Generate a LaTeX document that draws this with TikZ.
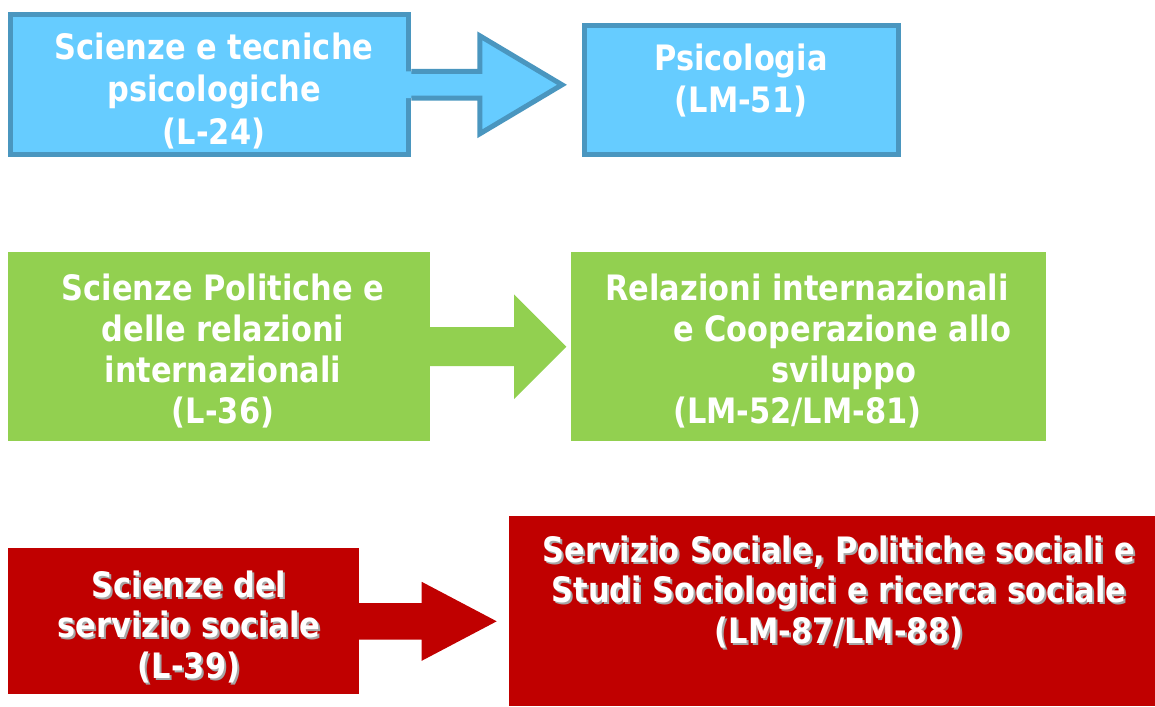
\documentclass[tikz,border=0pt]{standalone}
\usepackage{fontspec}
\newfontfamily\boxfont{DejaVu Sans}[FakeStretch=0.87]
\usetikzlibrary{calc}

\definecolor{bluefill}{HTML}{66CCFF}
\definecolor{blueline}{HTML}{4A96BF}
\definecolor{greenfill}{HTML}{92D050}
\definecolor{redfill}{HTML}{C00000}
\definecolor{shadowgray}{HTML}{A6A6A6}

\newcommand{\shadowed}[1]{\makebox[0pt][l]{\raisebox{-2pt}{\kern2pt\textcolor{shadowgray}{#1}}}#1}

\begin{document}
\begin{tikzpicture}[x=1pt, y=-1pt,
    box/.style={rectangle, inner sep=0pt},
    bluebox/.style={box, draw=blueline, fill=bluefill, line width=5pt},
    greenbox/.style={box, fill=greenfill},
    redbox/.style={box, fill=redfill},
    boxtext/.style={inner sep=0pt, text=white, align=center, anchor=base,
      font=\boxfont\bfseries\fontsize{35}{#1}\selectfont},
    boxtext/.default=41,
    arrowline/.style={draw=blueline, line width=5pt, line join=miter}
  ]

  \useasboundingbox (0,0) rectangle (1155,706);

  % boxes
  \node[bluebox, minimum width=398pt, minimum height=140pt] (l24) at (209.9,84.8) {};
  \node[bluebox, minimum width=314pt, minimum height=129.6pt] (lm51) at (741.2,90) {};

  \node[greenbox, minimum width=421.6pt, minimum height=188.7pt] (l36) at (219.2,346.7) {};
  \node[greenbox, minimum width=474.7pt, minimum height=188.7pt] (lm52) at (808.4,346.7) {};

  \node[redbox, minimum width=351pt, minimum height=146pt] (l39) at (183.8,621.3) {};
  \node[redbox, minimum width=645.8pt, minimum height=190pt] (lm87) at (832.1,611) {};

  % block arrows
  \coordinate (tip1) at (562,84.8);
  \fill[bluefill] ($(l24.east)+(-6,-13.4)$) -- ($(tip1)+(-82.2,-13.4)$) -- ($(tip1)+(-82.2,-49)$)
    -- (tip1) -- ($(tip1)+(-82.2,49)$) -- ($(tip1)+(-82.2,13.4)$) -- ($(l24.east)+(-6,13.4)$) -- cycle;
  \draw[arrowline] ($(l24.east)+(0,-13.4)$) -- ($(tip1)+(-82.2,-13.4)$) -- ($(tip1)+(-82.2,-49)$)
    -- (tip1) -- ($(tip1)+(-82.2,49)$) -- ($(tip1)+(-82.2,13.4)$) -- ($(l24.east)+(0,13.4)$);

  \coordinate (tip2) at (566.4,346.7);
  \fill[greenfill] ($(l36.east)+(-1,-19.5)$) -- ($(tip2)+(-52.4,-19.5)$) -- ($(tip2)+(-52.4,-52.3)$)
    -- (tip2) -- ($(tip2)+(-52.4,52.3)$) -- ($(tip2)+(-52.4,19.5)$) -- ($(l36.east)+(-1,19.5)$) -- cycle;

  \coordinate (tip3) at (496.7,621.3);
  \fill[redfill] ($(l39.east)+(-1,-18.3)$) -- ($(tip3)+(-75,-18.3)$) -- ($(tip3)+(-75,-39.5)$)
    -- (tip3) -- ($(tip3)+(-75,39.5)$) -- ($(tip3)+(-75,18.3)$) -- ($(l39.east)+(-1,18.3)$) -- cycle;

  % texts (placed at the baseline of their last line)
  \node[boxtext=42.5] (l24-t) at (214,144) {Scienze e tecniche\\psicologiche\\(L-24)};
  \node[boxtext=42.5] (lm51-t) at (741,113) {Psicologia\\(LM-51)};

  \node[boxtext] (l36-t) at (223,423) {Scienze Politiche e\\delle relazioni\\internazionali\\(L-36)};
  \node[boxtext, align=left, anchor=base west] (lm52-t) at (605,423.3)
    {Relazioni internazionali\\\hspace*{68pt}e Cooperazione allo\\\hspace*{166pt}sviluppo\\\hspace*{68pt}(LM-52/LM-81)};

  \node[boxtext=40.4] (l39-t) at (189,678)
    {\shadowed{Scienze del}\\\shadowed{servizio sociale}\\\shadowed{(L-39)}};
  \node[boxtext=40.4] (lm87-t) at (839,643.3)
    {\shadowed{Servizio Sociale, Politiche sociali e}\\\shadowed{Studi Sociologici e ricerca sociale}\\\shadowed{(LM-87/LM-88)}};

\end{tikzpicture}
\end{document}
